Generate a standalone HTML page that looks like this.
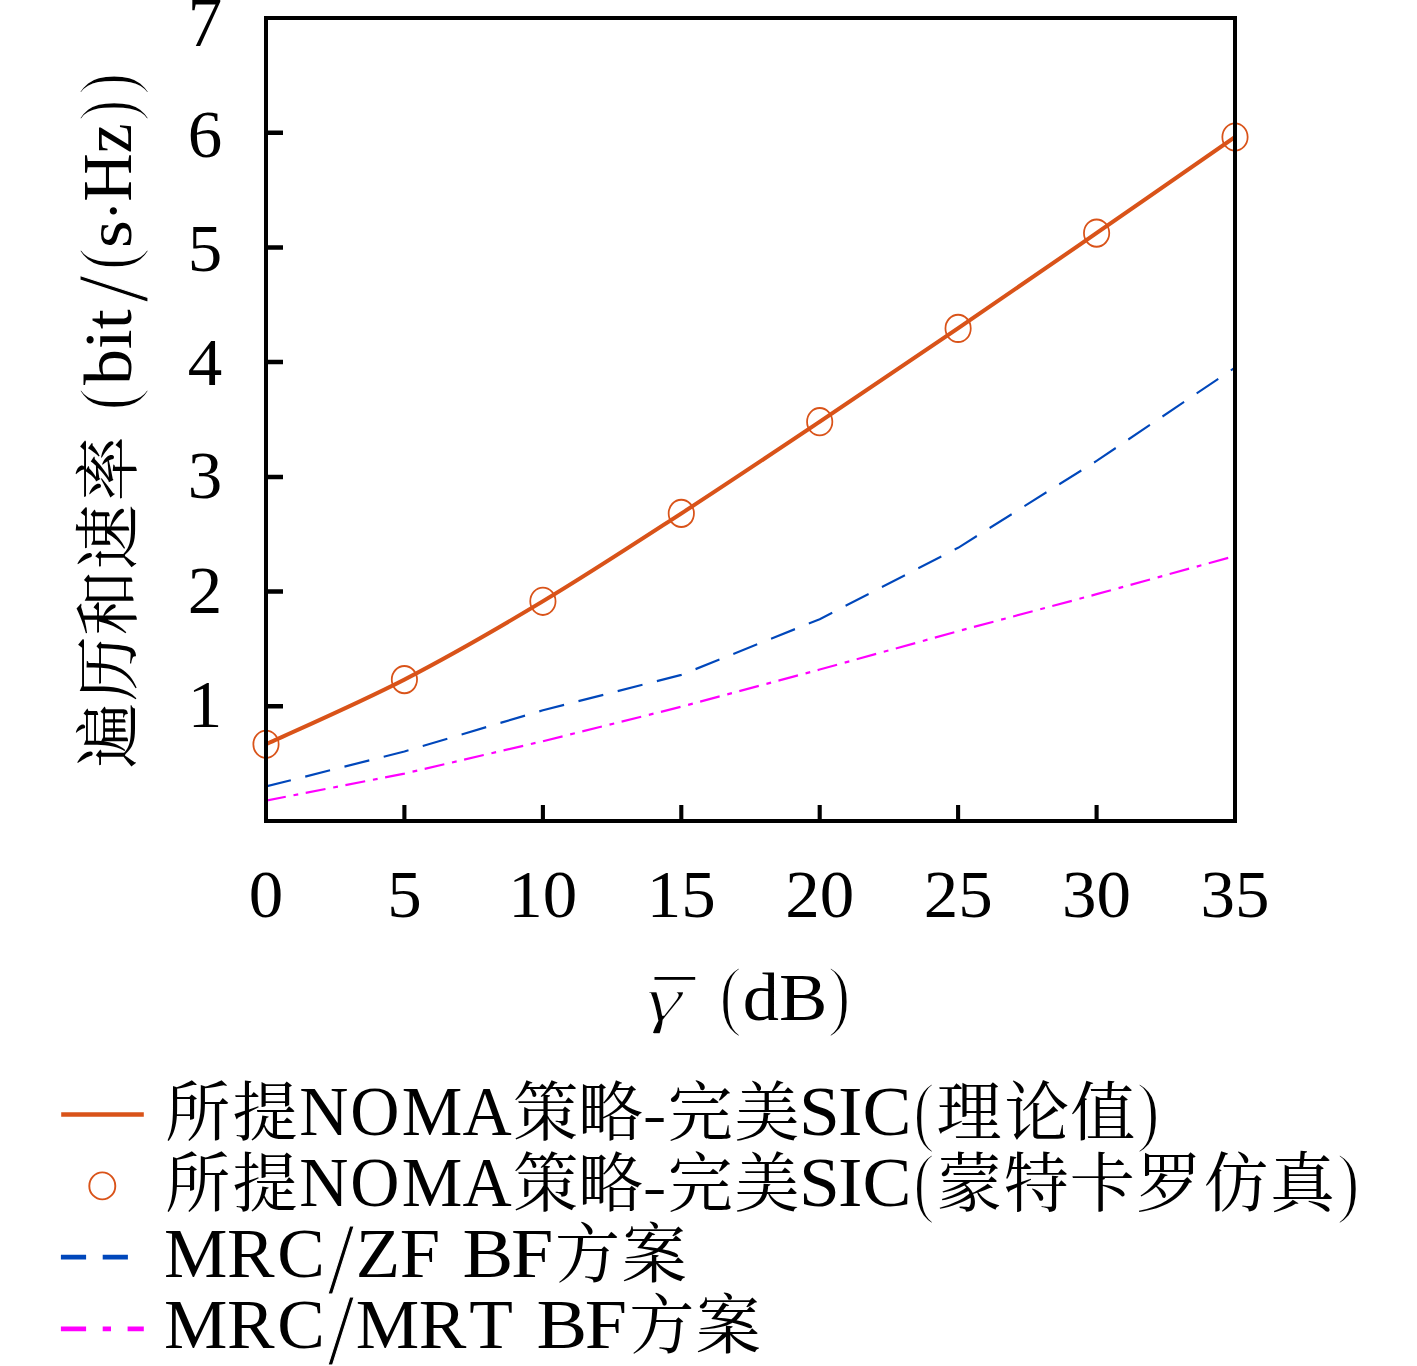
<!DOCTYPE html>
<html lang="zh"><head><meta charset="utf-8"><title>遍历和速率</title>
<style>
html,body{margin:0;padding:0;background:#fff;}
body{width:1417px;height:1366px;overflow:hidden;}
svg{display:block;}
text{font-family:"Liberation Serif","Noto Serif CJK SC",serif;fill:#000;font-kerning:none;white-space:pre;}
</style></head><body>
<svg width="1417" height="1366" viewBox="0 0 1417 1366">
<rect width="1417" height="1366" fill="#fff"/>
<clipPath id="pc"><rect x="266.0" y="18.0" width="969.0" height="803.0"/></clipPath>
<g clip-path="url(#pc)"><g fill="none" transform="scale(1 1.078)">
<path d="M266.0,742.7 L404.4,717.6 L542.9,687.6 L681.3,655.6 L819.7,621.1 L958.1,585.5 L1096.6,551.2 L1235.0,515.8" stroke="#FF00FF" stroke-width="2.05" stroke-linejoin="round" stroke-dasharray="20.1 7.85 4.8 7.6"/>
<path d="M266.0,729.6 L404.4,697.1 L542.9,658.9 L681.3,626.0 L819.7,574.4 L958.1,508.2 L1096.6,427.5 L1235.0,341.0" stroke="#0047BB" stroke-width="2.05" stroke-linejoin="round" stroke-dasharray="25.5 14.8"/>
<path d="M266.0,690.4 C289.1,680.4 358.2,652.5 404.4,630.4 C450.5,608.3 496.8,583.5 542.9,557.8 C589.0,532.1 635.2,504.0 681.3,476.3 C727.4,448.5 773.6,419.8 819.7,391.2 C865.8,362.6 912.0,333.8 958.1,304.6 C1004.2,275.5 1050.4,245.8 1096.6,216.2 C1142.8,186.6 1211.9,141.9 1235.0,127.1" stroke="#D95319" stroke-width="3.8"/>
</g></g>
<g fill="none" stroke="#D95319" stroke-width="1.75" transform="scale(1 1.078)">
<circle cx="266.0" cy="690.45" r="12.65"/>
<circle cx="404.4" cy="630.43" r="12.65"/>
<circle cx="542.9" cy="557.79" r="12.65"/>
<circle cx="681.3" cy="476.25" r="12.65"/>
<circle cx="819.7" cy="391.19" r="12.65"/>
<circle cx="958.1" cy="304.64" r="12.65"/>
<circle cx="1096.6" cy="216.23" r="12.65"/>
<circle cx="1235.0" cy="127.09" r="12.65"/>
</g>
<g fill="none" stroke="#000" stroke-width="4">
<rect x="266.0" y="18.0" width="969.0" height="803.0"/>
<path d="M404.4,821.0 v-16 M542.9,821.0 v-16 M681.3,821.0 v-16 M819.7,821.0 v-16 M958.1,821.0 v-16 M1096.6,821.0 v-16 " stroke-width="4.1"/>
<path d="M266.0,706.3 h17 M266.0,591.6 h17 M266.0,476.9 h17 M266.0,362.1 h17 M266.0,247.4 h17 M266.0,132.7 h17 " stroke-width="4.5"/>
</g>
<text transform="matrix(1.0000 0 0 0.9850 266.00 917.30)" font-size="69" text-anchor="middle">0</text>
<text transform="matrix(1.0000 0 0 0.9850 404.43 917.30)" font-size="69" text-anchor="middle">5</text>
<text transform="matrix(1.0000 0 0 0.9850 542.86 917.30)" font-size="69" text-anchor="middle">10</text>
<text transform="matrix(1.0000 0 0 0.9850 681.29 917.30)" font-size="69" text-anchor="middle">15</text>
<text transform="matrix(1.0000 0 0 0.9850 819.71 917.30)" font-size="69" text-anchor="middle">20</text>
<text transform="matrix(1.0000 0 0 0.9850 958.14 917.30)" font-size="69" text-anchor="middle">25</text>
<text transform="matrix(1.0000 0 0 0.9850 1096.57 917.30)" font-size="69" text-anchor="middle">30</text>
<text transform="matrix(1.0000 0 0 0.9850 1235.00 917.30)" font-size="69" text-anchor="middle">35</text>
<text transform="matrix(1.0000 0 0 0.9850 222.30 726.50)" font-size="69" text-anchor="end">1</text>
<text transform="matrix(1.0000 0 0 0.9850 222.30 613.00)" font-size="69" text-anchor="end">2</text>
<text transform="matrix(1.0000 0 0 0.9850 222.30 498.00)" font-size="69" text-anchor="end">3</text>
<text transform="matrix(1.0000 0 0 0.9850 222.30 384.90)" font-size="69" text-anchor="end">4</text>
<text transform="matrix(1.0000 0 0 0.9850 222.30 271.00)" font-size="69" text-anchor="end">5</text>
<text transform="matrix(1.0000 0 0 0.9850 222.30 157.00)" font-size="69" text-anchor="end">6</text>
<text transform="matrix(1.0000 0 0 1.0300 222.30 45.50)" font-size="69" text-anchor="end">7</text>
<text transform="matrix(1.3690 0 0 0.9597 645.94 1020.01)" font-size="67" font-style="italic" stroke="#fff" stroke-width="1.7">γ</text>
<rect x="654.5" y="977.0" width="40.7" height="2.8" fill="#000"/>
<text transform="matrix(1.0170 0 0 1.1588 719.36 1021.37)" font-size="67" stroke="#fff" stroke-width="1.90">(</text>
<text transform="matrix(1.0814 0 0 1.0000 742.68 1019.70)" font-size="67">dB</text>
<text transform="matrix(1.0402 0 0 1.1588 827.40 1021.37)" font-size="67" stroke="#fff" stroke-width="1.90">)</text>
<g transform="translate(131.2 770) rotate(-90)">
<text x="2.12 68.94 134.64 200.31 268.73" y="0" font-size="65">遍历和速率</text>
<text transform="matrix(1.0402 0 0 1.1588 359.29 1.67)" font-size="67" stroke="#fff" stroke-width="1.90">(</text>
<text transform="matrix(1.0734 0 0 1.0000 384.90 0.00)" font-size="67">bit</text>
<text transform="matrix(1.4397 0 0 1.5172 467.65 16.01)" font-size="67" stroke="#fff" stroke-width="0.70">/</text>
<text transform="matrix(1.0112 0 0 1.1588 499.67 1.67)" font-size="67" stroke="#fff" stroke-width="1.90">(</text>
<text transform="matrix(1.0667 0 0 0.9400 522.07 0.00)" font-size="67">s</text>
<text transform="matrix(0.9094 0 0 0.9221 549.05 2.70)" font-size="67">·</text>
<text transform="matrix(1.0010 0 0 1.0450 568.27 0.00)" font-size="67">Hz</text>
<text transform="matrix(0.9821 0 0 1.1588 648.83 1.67)" font-size="67" stroke="#fff" stroke-width="1.90">)</text>
<text transform="matrix(0.9995 0 0 1.1588 674.89 1.67)" font-size="67" stroke="#fff" stroke-width="1.90">)</text>
</g>
<g fill="none" stroke-width="4.7">
<path d="M61.2,1114.5 H143.8" stroke="#D95319"/>
<path d="M60.9,1257.2 H144" stroke="#0047BB" stroke-dasharray="25.2 16.6"/>
<path d="M60.9,1328.8 H143.8" stroke="#FF00FF" stroke-dasharray="25.2 16.6 8.3 16.6"/>
</g>
<ellipse cx="102.3" cy="1185.9" rx="13.0" ry="13.5" fill="none" stroke="#D95319" stroke-width="1.9"/>
<text x="165.14 232.62" y="1135.00" font-size="65">所提</text>
<text x="294.31 344.62 395.11 455.00" transform="matrix(1.0166 0 0 1.0450 0 1135.00)" font-size="67">NOMA</text>
<text x="513.20 578.11" y="1135.00" font-size="65">策略</text>
<text transform="matrix(1.0400 0 0 0.7991 643.11 1133.31)" font-size="67">-</text>
<text x="667.67 734.52" y="1135.00" font-size="65">完美</text>
<text x="728.98 764.74 787.04" transform="matrix(1.0959 0 0 1.0450 0 1135.00)" font-size="67">SIC</text>
<text transform="matrix(0.9647 0 0 1.1588 913.31 1136.67)" font-size="67" stroke="#fff" stroke-width="1.90">(</text>
<text x="165.14 232.62" y="1206.20" font-size="65">所提</text>
<text x="294.31 344.62 395.11 455.00" transform="matrix(1.0166 0 0 1.0450 0 1206.20)" font-size="67">NOMA</text>
<text x="513.20 578.11" y="1206.20" font-size="65">策略</text>
<text transform="matrix(1.0400 0 0 0.7991 643.11 1204.51)" font-size="67">-</text>
<text x="667.67 734.52" y="1206.20" font-size="65">完美</text>
<text x="728.98 764.74 787.04" transform="matrix(1.0959 0 0 1.0450 0 1206.20)" font-size="67">SIC</text>
<text transform="matrix(0.9647 0 0 1.1588 913.31 1207.87)" font-size="67" stroke="#fff" stroke-width="1.90">(</text>
<text x="936.44 1004.47 1070.20" y="1135.00" font-size="65">理论值</text>
<text transform="matrix(1.0635 0 0 1.1588 1136.15 1136.67)" font-size="67" stroke="#fff" stroke-width="1.90">)</text>
<text x="937.00 1003.84 1069.70 1136.46 1203.60 1269.90" y="1206.20" font-size="65">蒙特卡罗仿真</text>
<text transform="matrix(1.0460 0 0 1.1588 1336.39 1207.87)" font-size="67" stroke="#fff" stroke-width="1.90">)</text>
<text x="154.02 213.27 260.36" transform="matrix(1.0645 0 0 1.0300 0 1277.40)" font-size="67">MRC</text>
<text transform="matrix(1.4021 0 0 1.5172 327.95 1293.41)" font-size="67" stroke="#fff" stroke-width="0.70">/</text>
<text x="154.02 213.27 260.36" transform="matrix(1.0645 0 0 1.0300 0 1348.40)" font-size="67">MRC</text>
<text transform="matrix(1.4021 0 0 1.5172 327.95 1364.41)" font-size="67" stroke="#fff" stroke-width="0.70">/</text>
<text x="328.12 368.71" transform="matrix(1.0841 0 0 1.0300 0 1277.40)" font-size="67">ZF</text>
<text x="407.25 450.09" transform="matrix(1.1354 0 0 1.0300 0 1277.40)" font-size="67">BF</text>
<text x="555.09 621.69" y="1277.40" font-size="65">方案</text>
<text x="333.74 392.73 440.08" transform="matrix(1.0661 0 0 1.0300 0 1348.40)" font-size="67">MRT</text>
<text x="473.08 515.74" transform="matrix(1.1340 0 0 1.0300 0 1348.40)" font-size="67">BF</text>
<text x="629.34 695.64" y="1348.40" font-size="65">方案</text>
</svg>
</body></html>
